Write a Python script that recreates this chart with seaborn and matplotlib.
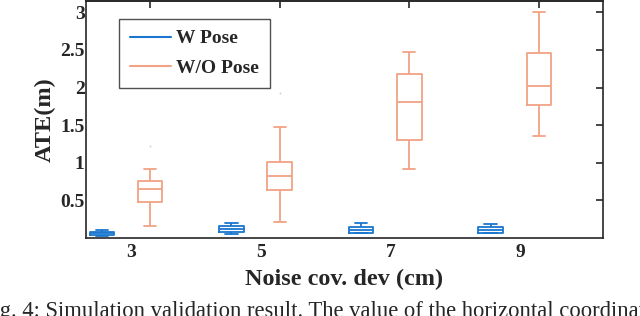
import pandas as pd
import seaborn as sns
import matplotlib.pyplot as plt
from matplotlib.lines import Line2D

# Box stats: whisker low, Q1, median, Q3, whisker high
noise = [3, 5, 7, 9]
w_low = [0.03, 0.058, 0.06, 0.06]
w_q1 = [0.045, 0.08, 0.07, 0.07]
w_med = [0.06, 0.125, 0.105, 0.10]
w_q3 = [0.08, 0.16, 0.14, 0.14]
w_high = [0.10, 0.20, 0.20, 0.18]

wo_low = [0.155, 0.21, 0.915, 1.35]
wo_q1 = [0.48, 0.64, 1.305, 1.77]
wo_med = [0.655, 0.82, 1.81, 2.025]
wo_q3 = [0.76, 1.013, 2.175, 2.46]
wo_high = [0.92, 1.47, 2.47, 3.01]

# faint outlier dots
out_noise = [3, 5]
out_vals = [1.22, 1.93]

labels = ['W Pose', 'W/O Pose']
colors = ['#1a76cf', '#f2a385']
offs = {'W Pose': -0.455, 'W/O Pose': 0.29}

rows = []
for i, n in enumerate(noise):
    for v in [w_low[i], w_q1[i], w_med[i], w_q3[i], w_high[i]]:
        rows.append({'pos': n + offs['W Pose'], 'ATE': v, 'method': 'W Pose'})
    for v in [wo_low[i], wo_q1[i], wo_med[i], wo_q3[i], wo_high[i]]:
        rows.append({'pos': n + offs['W/O Pose'], 'ATE': v, 'method': 'W/O Pose'})
df = pd.DataFrame(rows)

sns.set_style('white')
plt.rcParams['font.family'] = ['Liberation Serif', 'DejaVu Serif']

fig = plt.figure(figsize=(6.4, 3.16), dpi=100)
ax = fig.add_axes([86/640, 1 - 238/316, 517/640, 237/316])

sns.boxplot(data=df, x='pos', y='ATE', hue='method', palette=colors,
            native_scale=True, dodge=False, fill=False, whis=(0, 100),
            showfliers=False, width=0.507, linewidth=1.3, legend=False, ax=ax)

out_df = pd.DataFrame({'pos': [n + offs['W/O Pose'] for n in out_noise], 'ATE': out_vals})
sns.scatterplot(data=out_df, x='pos', y='ATE', color='#c8d6ec', s=2, linewidth=0, ax=ax)

ax.set_xlim(2.30, 10.28)
ax.set_ylim(0, 3.15)
ax.set_xticks(noise)
ax.set_xticklabels([str(n) for n in noise], fontweight='bold', fontsize=14)
ax.set_yticks([0.5, 1, 1.5, 2, 2.5, 3])
ax.set_yticklabels(['0.5', '1', '1.5', '2', '2.5', '3'], fontweight='bold', fontsize=14)
ax.tick_params(direction='in', length=5, width=1.2, right=True)
ax.tick_params(axis='y', pad=1)
ax.tick_params(axis='x', pad=4)

top = ax.secondary_xaxis('top')
top.set_xticks([n + offs['W/O Pose'] for n in noise])
top.set_xticklabels([])
top.tick_params(direction='in', length=5, width=1.2)

for s in list(ax.spines.values()) + list(top.spines.values()):
    s.set_linewidth(1.2)
    s.set_color('#262626')

ax.set_xlabel('Noise cov. dev (cm)', fontweight='bold', fontsize=17.5, labelpad=6)
ax.set_ylabel('ATE(m)', fontweight='bold', fontsize=17.5, labelpad=3)

handles = [Line2D([], [], color=c, lw=1.5) for c in colors]
leg = ax.legend(handles, labels, loc='upper left', bbox_to_anchor=(0.064, 0.924),
                borderaxespad=0, frameon=True, fancybox=False, handlelength=2.1,
                handletextpad=0.3, borderpad=0.55, labelspacing=0.62,
                prop={'family': 'Liberation Serif', 'weight': 'bold', 'size': 14})
leg.get_frame().set_edgecolor('#262626')
leg.get_frame().set_linewidth(1.0)

fig.text(-19/640, -1/316, 'Fig. 4: Simulation validation result. The value of the horizontal coordinate',
         fontsize=16.3, va='baseline', ha='left')

plt.savefig('out.png', dpi=100)
plt.close()
